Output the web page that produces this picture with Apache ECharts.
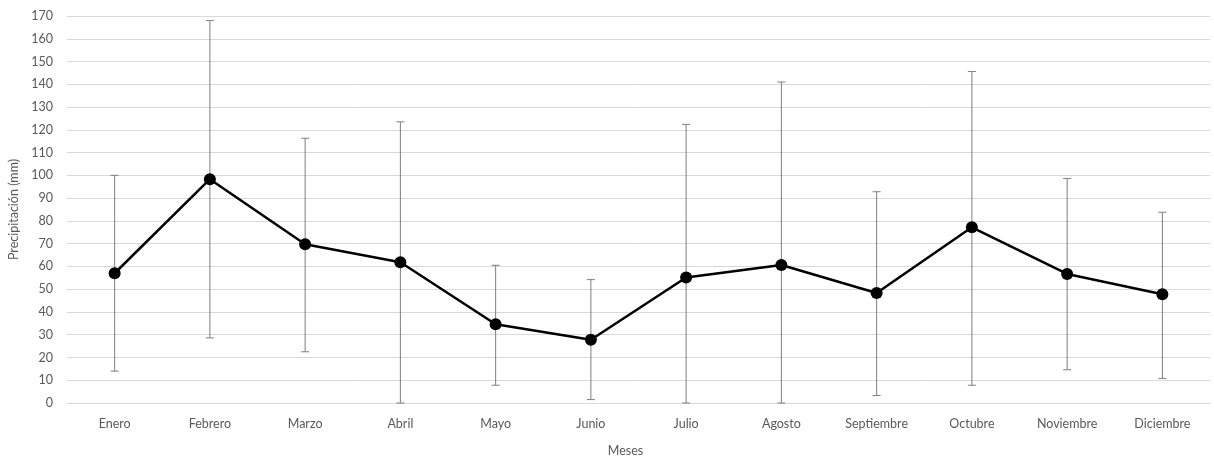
<!DOCTYPE html>
<html>
<head>
<meta charset="utf-8">
<script src="https://cdn.jsdelivr.net/npm/echarts@6/dist/echarts.min.js"></script>
<style>
  html, body { margin: 0; padding: 0; background: #fff; }
  #chart { width: 1214px; height: 459px; }
</style>
</head>
<body>
<div id="chart"></div>
<script>
const months = ['Enero', 'Febrero', 'Marzo', 'Abril', 'Mayo', 'Junio', 'Julio',
  'Agosto', 'Septiembre', 'Octubre', 'Noviembre', 'Diciembre'];
const precip = [57, 98.3, 69.7, 61.8, 34.6, 27.8, 55.1, 60.6, 48.3, 77.2, 56.7, 47.8];
const upper = [100, 168, 116.3, 123.5, 60.5, 54.2, 122.4, 141, 92.8, 145.6, 98.6, 83.8];
const lower = [14, 28.6, 22.5, 0, 7.8, 1.5, 0, 0, 3.3, 7.8, 14.6, 10.8];

const errData = months.map((m, i) => [i, lower[i], upper[i]]);

const chart = echarts.init(document.getElementById('chart'));
const font = 'Lato, "Open Sans", sans-serif';

chart.setOption({
  animation: false,
  grid: { left: 67, right: 4, top: 16, bottom: 56, outerBoundsMode: 'none', containLabel: false },
  xAxis: {
    type: 'category',
    data: months,
    name: 'Meses',
    nameLocation: 'middle',
    nameGap: 41,
    nameTextStyle: { color: '#595959', fontSize: 12.5, fontFamily: font, padding: [0, 26, 0, 0] },
    axisLine: { lineStyle: { color: '#d9d9d9', width: 1 } },
    axisTick: { show: false },
    axisLabel: { color: '#595959', fontSize: 12.5, fontFamily: font, margin: 14, interval: 0 }
  },
  yAxis: {
    type: 'value',
    min: 0,
    max: 170,
    interval: 10,
    name: 'Precipitación (mm)',
    nameLocation: 'middle',
    nameGap: 45,
    nameTextStyle: { color: '#595959', fontSize: 12.5, fontFamily: font },
    axisLine: { show: false },
    axisTick: { show: false },
    axisLabel: { color: '#595959', fontSize: 12.5, fontFamily: font, margin: 14 },
    splitLine: { lineStyle: { color: '#d9d9d9', width: 1 } }
  },
  series: [
    {
      type: 'custom',
      data: errData,
      z: 1,
      renderItem: function (params, api) {
        const x = api.value(0);
        const lo = api.coord([x, api.value(1)]);
        const hi = api.coord([x, api.value(2)]);
        const cap = 4;
        const style = { stroke: '#7f7f7f', lineWidth: 1 };
        return {
          type: 'group',
          children: [
            { type: 'line', shape: { x1: hi[0], y1: hi[1], x2: lo[0], y2: lo[1] }, style: style },
            { type: 'line', shape: { x1: hi[0] - cap, y1: hi[1], x2: hi[0] + cap, y2: hi[1] }, style: style },
            { type: 'line', shape: { x1: lo[0] - cap, y1: lo[1], x2: lo[0] + cap, y2: lo[1] }, style: style }
          ]
        };
      }
    },
    {
      type: 'line',
      data: precip,
      z: 3,
      symbol: 'circle',
      symbolSize: 12,
      lineStyle: { color: '#000', width: 2.5 },
      itemStyle: { color: '#000' }
    }
  ]
});
</script>
</body>
</html>
